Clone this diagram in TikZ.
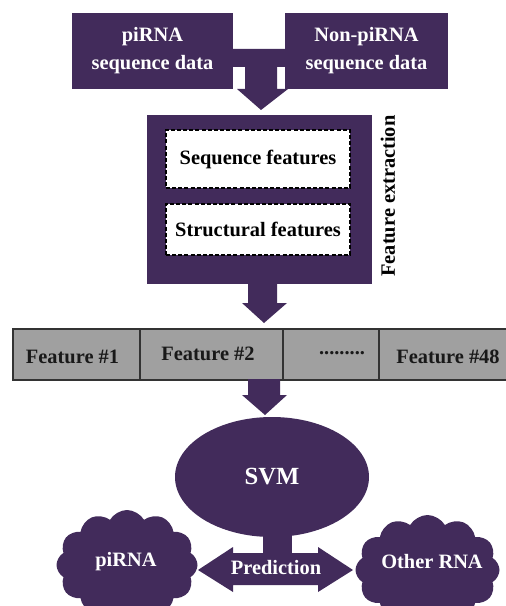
\documentclass[tikz,border=0pt]{standalone}
\usepackage{fontspec}
\setmainfont{Liberation Serif}
\usetikzlibrary{shapes.geometric,shapes.symbols}
\definecolor{pur}{HTML}{422B5B}
\definecolor{barg}{HTML}{A0A0A0}
\definecolor{bard}{HTML}{333333}
\begin{document}
\begin{tikzpicture}[x=0.75pt,y=-0.75pt,
  txt/.style={font=\bfseries\fontsize{15.3}{19}\selectfont, align=center, inner sep=0pt},
  darkbox/.style={txt, fill=pur, draw=none, text=white},
  dashbox/.style={txt, fill=white, draw=black, line width=1.5pt, dash pattern=on 3pt off 1.6pt},
  cell/.style={fill=barg, draw=bard, line width=1.1pt, inner sep=0pt, minimum height=38.25pt},
  celltext/.style={txt, anchor=base, text=black!90},
  blockarrow/.style={fill=pur, draw=none},
  cloudnode/.style={txt, cloud, cloud puffs=12, cloud puff arc=120, aspect=1.3, fill=pur, draw=none, text=white}
]
\useasboundingbox (0,0) rectangle (506,606);
\clip (0,0) rectangle (506,606);

% top boxes
\node[darkbox, minimum width=120.75pt, minimum height=57pt] (pi) at (152.5,51) {piRNA\\[2pt]sequence data};
\node[darkbox, minimum width=122.25pt, minimum height=57pt] (nonpi) at (366.5,51) {Non-piRNA\\[2pt]sequence data};

% merging arrow
\fill[blockarrow] (233,49) -- (285,49) -- (285,67) -- (277,67) -- (277,89) -- (288,89)
  -- (261,110) -- (237,89) -- (245,89) -- (245,67) -- (233,67) -- cycle;

% feature extraction
\node[darkbox, minimum width=168.75pt, minimum height=126.75pt] (fe) at (259.5,199.5) {};
\node[dashbox, minimum width=138pt, minimum height=43.5pt] (seq) at (258,159) {Sequence features};
\node[dashbox, minimum width=138pt, minimum height=38.25pt] (str) at (258,229.5) {Structural features};
\node[txt, rotate=90] (felab) at (388,196) {Feature extraction};

% arrow to bar
\fill[blockarrow] (248,283) -- (277,283) -- (277,303) -- (287,303) -- (264,323) -- (242,303) -- (248,303) -- cycle;

% feature bar
\node[cell, minimum width=95.25pt] (c1) at (76.5,354.5) {};
\node[cell, minimum width=107.25pt] (c2) at (211.5,354.5) {};
\node[cell, minimum width=72pt] (c3) at (331,354.5) {};
\node[cell, minimum width=105.75pt] (c4) at (449.5,354.5) {};
\node[celltext] (t1) at (72.5,363) {Feature \#1};
\node[celltext] (t2) at (208,360) {Feature \#2};
\node[celltext] (t3) at (342,354) {.........};
\node[celltext] (t4) at (448,363) {Feature \#48};

% arrow to SVM
\fill[blockarrow] (248,379) -- (280,379) -- (280,395) -- (287,395) -- (265,415) -- (242,395) -- (248,395) -- cycle;

% SVM
\fill[blockarrow] (263,520) rectangle (292,556);
\node[ellipse, fill=pur, text=white, inner sep=0pt, minimum width=145.5pt, minimum height=90pt,
  font=\bfseries\fontsize{18.5}{22}\selectfont] (svm) at (272,477) {SVM};

% prediction double arrow
\fill[blockarrow] (198,570) -- (233,547) -- (233,553) -- (318,553) -- (318,547) -- (353,570)
  -- (318,592) -- (318,585) -- (233,585) -- (233,592) -- cycle;
\node[txt, text=white] (pred) at (276,568) {Prediction};

% clouds
\node[cloudnode, minimum width=105.75pt, minimum height=82.5pt] (cpi) at (127,565) {};
\node[txt, text=white] at (126,562) {piRNA};
\node[cloudnode, minimum width=108pt, minimum height=82.5pt] (coth) at (427.5,570) {};
\node[txt, text=white] at (432,562) {Other RNA};
\end{tikzpicture}
\end{document}
